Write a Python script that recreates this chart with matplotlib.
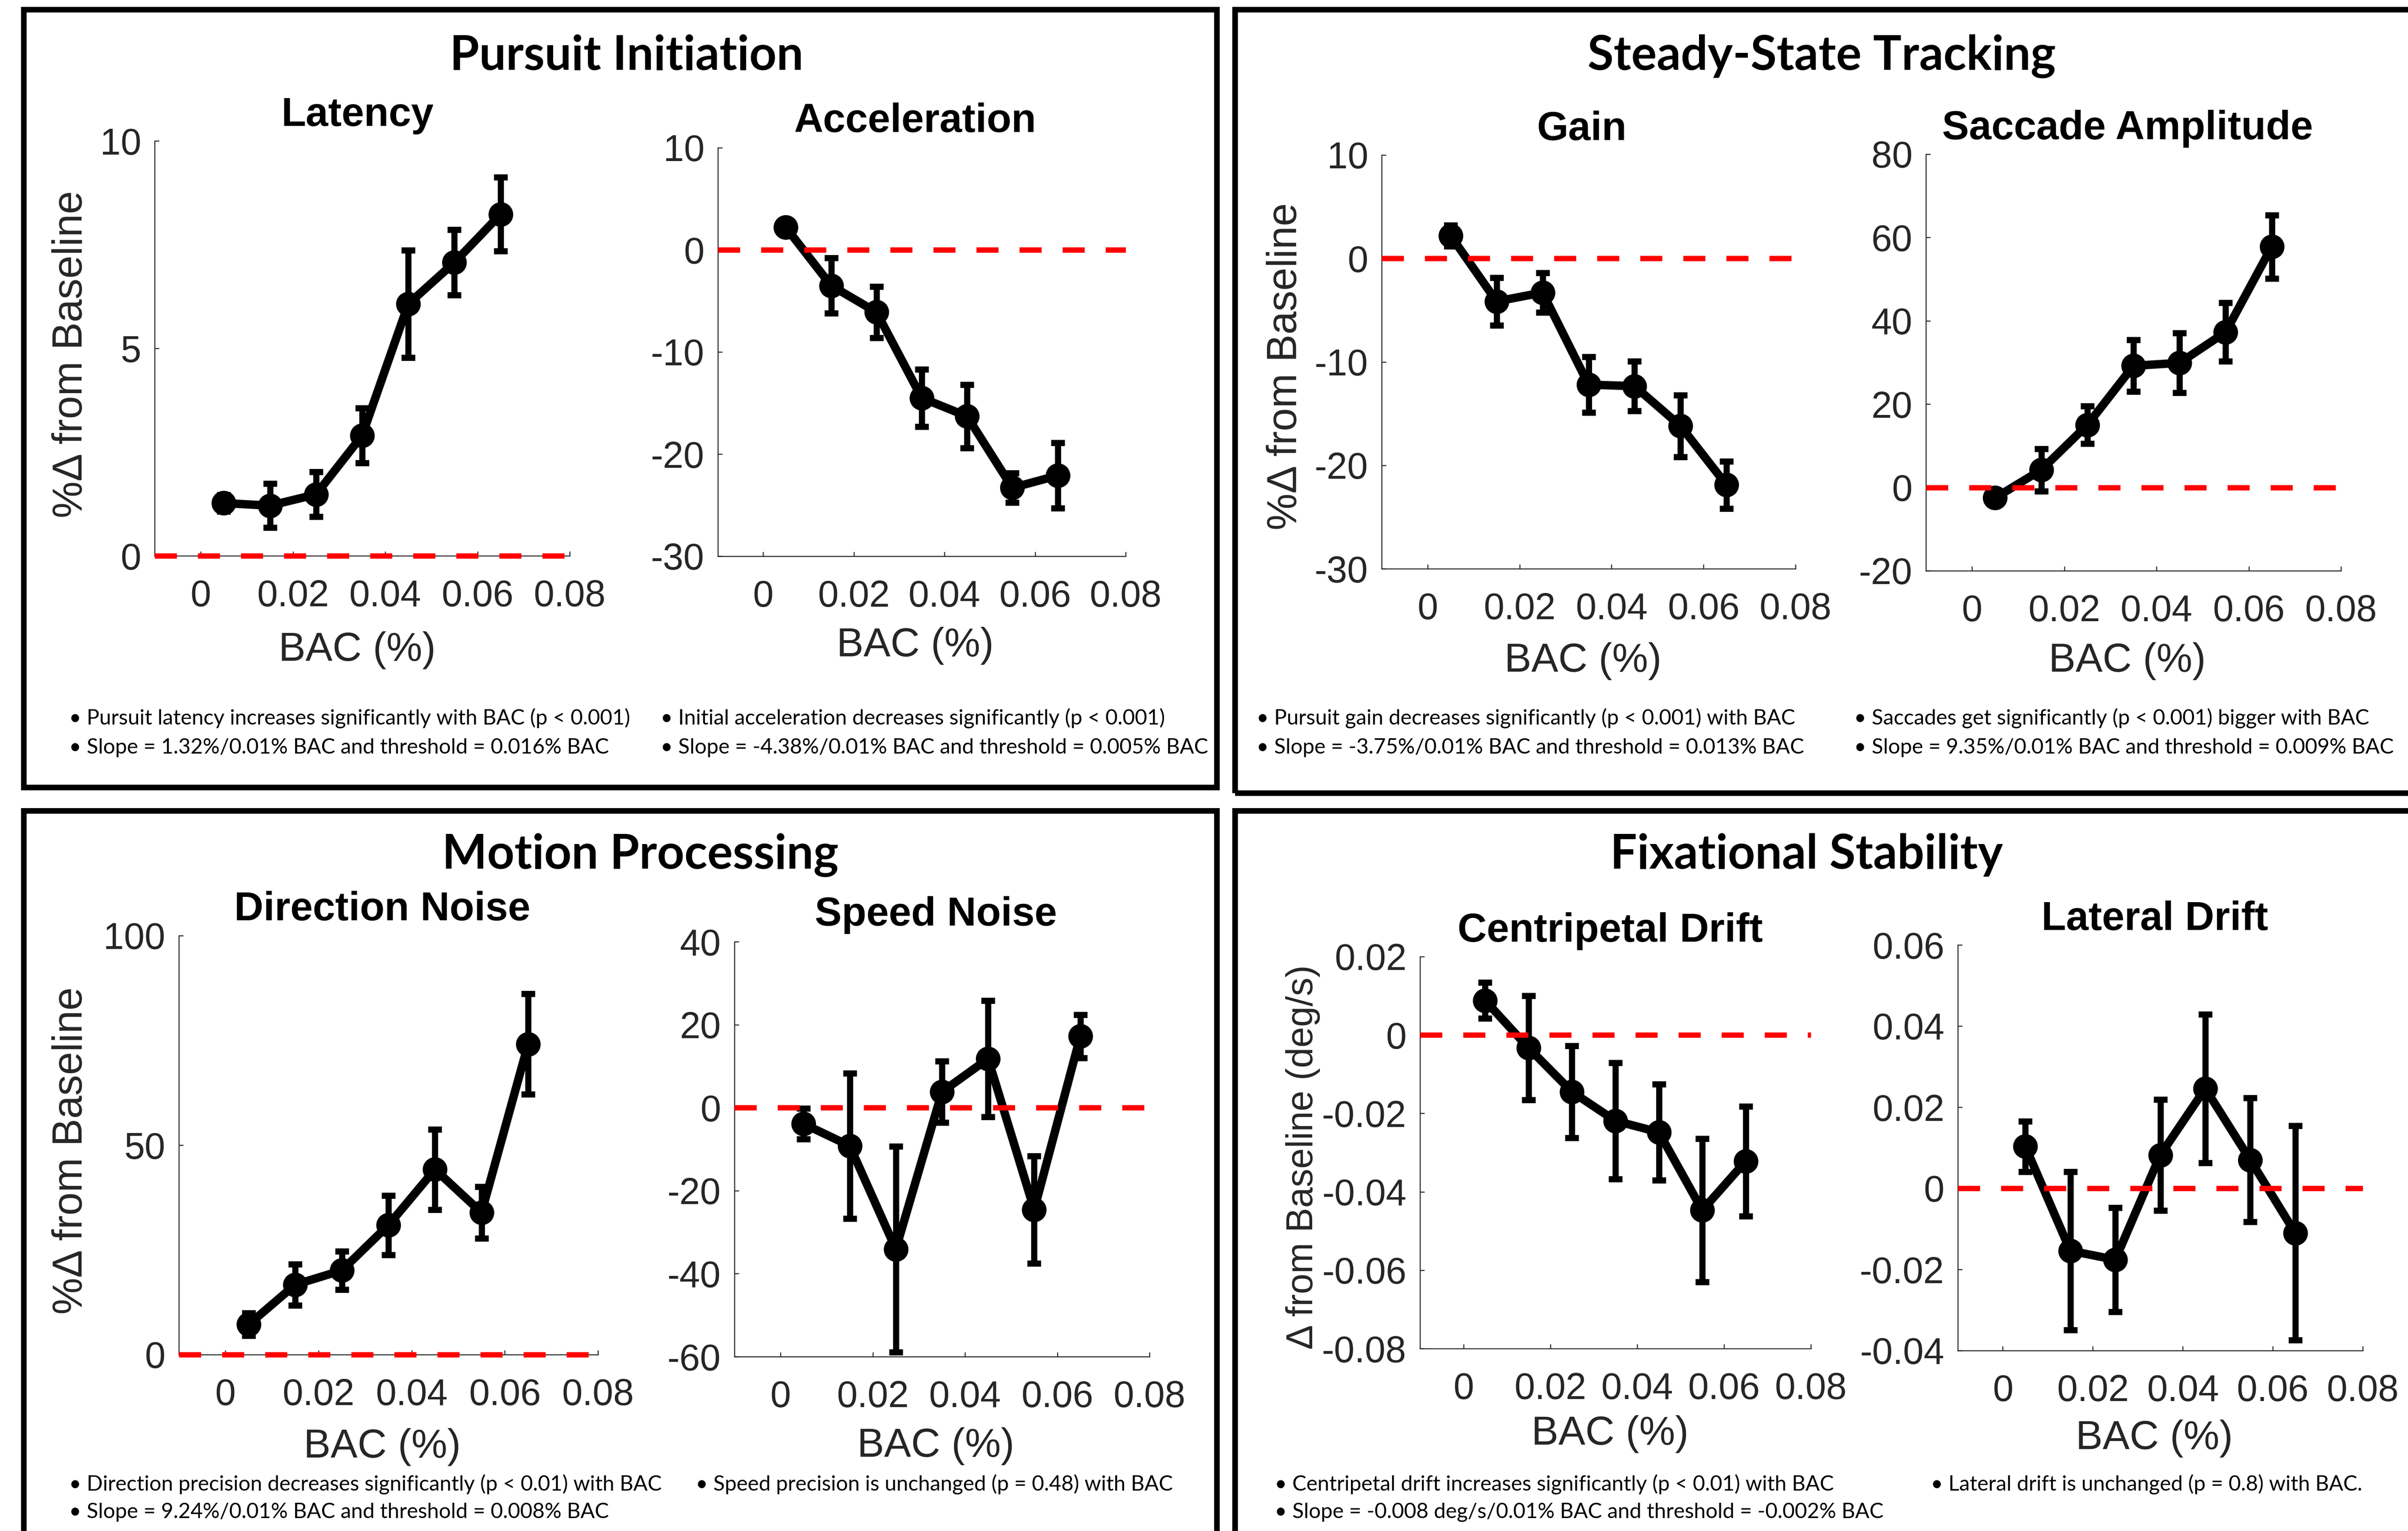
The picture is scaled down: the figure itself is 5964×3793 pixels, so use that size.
import matplotlib
matplotlib.use('Agg')
import matplotlib.pyplot as plt
from matplotlib.patches import Rectangle
import numpy as np

plt.rcParams['axes.unicode_minus'] = False

# ---------------- data ----------------
bac = [0.005, 0.015, 0.025, 0.035, 0.045, 0.055, 0.065]
x_ticks = [0, 0.02, 0.04, 0.06, 0.08]
x_tick_labels = ['0', '0.02', '0.04', '0.06', '0.08']

latency = [1.27, 1.21, 1.48, 2.90, 6.07, 7.07, 8.23]
latency_err = [0.20, 0.53, 0.54, 0.66, 1.29, 0.79, 0.89]
latency_yticks = [0, 5, 10]
latency_ylabels = ['0', '5', '10']

accel = [2.2, -3.5, -6.1, -14.5, -16.3, -23.3, -22.1]
accel_err = [0.7, 2.7, 2.5, 2.8, 3.1, 1.45, 3.2]
accel_yticks = [-30, -20, -10, 0, 10]
accel_ylabels = ['-30', '-20', '-10', '0', '10']

gain = [2.2, -4.15, -3.3, -12.2, -12.35, -16.2, -21.9]
gain_err = [1.0, 2.3, 1.9, 2.7, 2.4, 3.0, 2.3]
gain_yticks = [-30, -20, -10, 0, 10]
gain_ylabels = ['-30', '-20', '-10', '0', '10']

saccade = [-2.5, 4.2, 15.0, 29.2, 29.9, 37.3, 57.8]
saccade_err = [0.8, 5.1, 4.5, 6.2, 7.2, 7.0, 7.6]
saccade_yticks = [-20, 0, 20, 40, 60, 80]
saccade_ylabels = ['-20', '0', '20', '40', '60', '80']

direction = [7.2, 16.7, 20.1, 30.9, 44.2, 33.9, 74.1]
direction_err = [2.7, 4.9, 4.6, 7.1, 9.6, 6.2, 12.0]
direction_yticks = [0, 50, 100]
direction_ylabels = ['0', '50', '100']

speed = [-3.9, -9.2, -34.1, 3.8, 11.8, -24.6, 17.2]
speed_err = [3.7, 17.5, 24.8, 7.4, 14.0, 12.9, 5.2]
speed_yticks = [-60, -40, -20, 0, 20, 40]
speed_ylabels = ['-60', '-40', '-20', '0', '20', '40']

centripetal = [0.0088, -0.0033, -0.0145, -0.0219, -0.0248, -0.0447, -0.0322]
centripetal_err = [0.0046, 0.0133, 0.0117, 0.0148, 0.0123, 0.0183, 0.0140]
centripetal_yticks = [-0.08, -0.06, -0.04, -0.02, 0, 0.02]
centripetal_ylabels = ['-0.08', '-0.06', '-0.04', '-0.02', '0', '0.02']

lateral = [0.0103, -0.0154, -0.0176, 0.0082, 0.0246, 0.0070, -0.0110]
lateral_err = [0.0062, 0.0195, 0.0128, 0.0137, 0.0183, 0.0153, 0.0264]
lateral_yticks = [-0.04, -0.02, 0, 0.02, 0.04, 0.06]
lateral_ylabels = ['-0.04', '-0.02', '0', '0.02', '0.04', '0.06']

section_titles = ['Pursuit Initiation', 'Steady-State Tracking',
                  'Motion Processing', 'Fixational Stability']
panel_titles = ['Latency', 'Acceleration', 'Gain', 'Saccade Amplitude',
                'Direction Noise', 'Speed Noise', 'Centripetal Drift', 'Lateral Drift']
ylabel_pct = '%\u0394 from Baseline'
ylabel_deg = '\u0394 from Baseline (deg/s)'
xlabel = 'BAC (%)'

bullets = [
    '\u2022 Pursuit latency increases significantly with BAC (p < 0.001)',
    '\u2022 Slope = 1.32%/0.01% BAC and threshold = 0.016% BAC',
    '\u2022 Initial acceleration decreases significantly (p < 0.001)',
    '\u2022 Slope = -4.38%/0.01% BAC and threshold = 0.005% BAC',
    '\u2022 Pursuit gain decreases significantly (p < 0.001) with BAC',
    '\u2022 Slope = -3.75%/0.01% BAC and threshold = 0.013% BAC',
    '\u2022 Saccades get significantly (p < 0.001) bigger with BAC',
    '\u2022 Slope = 9.35%/0.01% BAC and threshold = 0.009% BAC',
    '\u2022 Direction precision decreases significantly (p < 0.01) with BAC',
    '\u2022 Slope = 9.24%/0.01% BAC and threshold = 0.008% BAC',
    '\u2022 Speed precision is unchanged (p = 0.48) with BAC',
    '\u2022 Centripetal drift increases significantly (p < 0.01) with BAC',
    '\u2022 Slope = -0.008 deg/s/0.01% BAC and threshold = -0.002% BAC',
    '\u2022 Lateral drift is unchanged (p = 0.8) with BAC.',
]

# ---------------- layout (pixels in the 5964x3793 canvas) ----------------
W, H = 5964, 3793
DPI = 200
fig = plt.figure(figsize=(W / DPI, H / DPI), dpi=DPI)
fig.patch.set_facecolor('white')

def fx(x):
    return x / W

def fy(y):
    return 1 - y / H

GRAY = '#262626'
TICKFONT = 'Liberation Sans'

panels = [
    # values, errors, yticks, ylabels, ylim, box(l, r, t, b), title pos, xlabel pos
    (latency, latency_err, latency_yticks, latency_ylabels, (0, 10), (383, 1411, 349, 1377), (885, 312), (885, 1637)),
    (accel, accel_err, accel_yticks, accel_ylabels, (-30, 10), (1778, 2788, 366, 1378), (2267, 327), (2267, 1626)),
    (gain, gain_err, gain_yticks, gain_ylabels, (-30, 10), (3422, 4447, 384, 1409), (3918, 347), (3921, 1664)),
    (saccade, saccade_err, saccade_yticks, saccade_ylabels, (-20, 80), (4770, 5798, 382, 1414), (5269, 345), (5269, 1664)),
    (direction, direction_err, direction_yticks, direction_ylabels, (0, 100), (443, 1481, 2318, 3356), (947, 2280), (947, 3611)),
    (speed, speed_err, speed_yticks, speed_ylabels, (-60, 40), (1819, 2847, 2333, 3361), (2318, 2293), (2318, 3609)),
    (centripetal, centripetal_err, centripetal_yticks, centripetal_ylabels, (-0.08, 0.02), (3517, 4485, 2370, 3341), (3988, 2333), (3988, 3579)),
    (lateral, lateral_err, lateral_yticks, lateral_ylabels, (-0.04, 0.06), (4849, 5852, 2341, 3346), (5337, 2304), (5336, 3590)),
]

for i, (vals, errs, yt, ytl, ylim, box, tpos, xlpos) in enumerate(panels):
    l, r, t, b = box
    ax = fig.add_axes([fx(l), fy(b), (r - l) / W, (b - t) / H])
    ax.set_facecolor('none')
    ax.set_xlim(-0.01, 0.08)
    ax.set_ylim(*ylim)
    ax.axhline(0, color='#ff0000', lw=4.8, dashes=(4.1, 3.9), zorder=5, clip_on=False)
    ax.errorbar(bac, vals, yerr=errs, fmt='-o', color='black', lw=7.5, ms=21,
                mfc='black', mec='black', elinewidth=5.5, capsize=6, capthick=5.5,
                zorder=4, clip_on=False)
    for s in ['top', 'right']:
        ax.spines[s].set_visible(False)
    for s in ['left', 'bottom']:
        ax.spines[s].set_color(GRAY)
        ax.spines[s].set_linewidth(0.9)
    ax.set_xticks(x_ticks)
    ax.set_xticklabels(x_tick_labels)
    ax.set_yticks(yt)
    ax.set_yticklabels(ytl)
    ax.tick_params(direction='in', length=4, width=0.9, color=GRAY,
                   labelcolor=GRAY, labelsize=33)
    ax.tick_params(axis='x', pad=21)
    ax.tick_params(axis='y', pad=12)
    for lab in ax.get_xticklabels() + ax.get_yticklabels():
        lab.set_family(TICKFONT)
    fig.text(fx(tpos[0]), fy(tpos[1]), panel_titles[i], ha='center', va='baseline',
             fontsize=36, fontweight='bold', family='Liberation Sans', color='black')
    fig.text(fx(xlpos[0]), fy(xlpos[1]), xlabel, ha='center', va='baseline',
             fontsize=36, family='Liberation Sans', color=GRAY)

# y labels
ylab_pos = [(177, 878, ylabel_pct, 37), (3184, 908, ylabel_pct, 37),
            (177, 2851, ylabel_pct, 37), (3227, 2867, ylabel_deg, 33)]
for x, y, s, fs in ylab_pos:
    fig.text(fx(x), fy(y), s, rotation=90, ha='center', va='center',
             fontsize=fs, family='Liberation Sans', color=GRAY)

# section boxes
boxes = [(59, 3014, 24, 1951), (3059, 6100, 24, 1965),
         (59, 3014, 2009, 3900), (3059, 6100, 2009, 3900)]
for l, r, t, b in boxes:
    fig.patches.append(Rectangle((fx(l), fy(b)), (r - l) / W, (b - t) / H,
                                 transform=fig.transFigure, fill=False,
                                 lw=5, ec='black', zorder=10))

# section titles
sec_pos = [(1552, 173), (4512, 173), (1586, 2152), (4474, 2152)]
sec_w = [886, 1153, 978, 977]
sec_texts = []
for (x, y), s in zip(sec_pos, section_titles):
    sec_texts.append(fig.text(fx(x), fy(y), s, ha='center', va='baseline',
                              fontsize=40, fontweight='bold', family='Lato', color='black'))

# bullet texts
bul_pos = [(171, 1780), (171, 1852), (1636, 1780), (1636, 1852),
           (3112, 1780), (3112, 1852), (4592, 1780), (4592, 1852),
           (171, 3678), (171, 3746), (1723, 3678),
           (3157, 3678), (3157, 3746), (4782, 3678)]
bul_w = [1419, 1335, 1286, 1350, 1366, 1354, 1305, 1339,
         1503, 1335, 1210, 1419, 1506, 1099]
bul_texts = []
for (x, y), s in zip(bul_pos, bullets):
    bul_texts.append(fig.text(fx(x), fy(y), s, ha='left', va='center',
                              fontsize=18, family='Lato', color='black'))

renderer = fig.canvas.get_renderer()

def fit(texts, widths, extra=1.0):
    ratios = [w / t.get_window_extent(renderer).width for t, w in zip(texts, widths)]
    k = float(np.median(ratios)) * extra
    for t in texts:
        t.set_fontsize(t.get_fontsize() * k)

fit(sec_texts, sec_w)
fit(bul_texts, bul_w, 0.98)

fig.savefig('out.png', dpi=DPI, facecolor='white')
